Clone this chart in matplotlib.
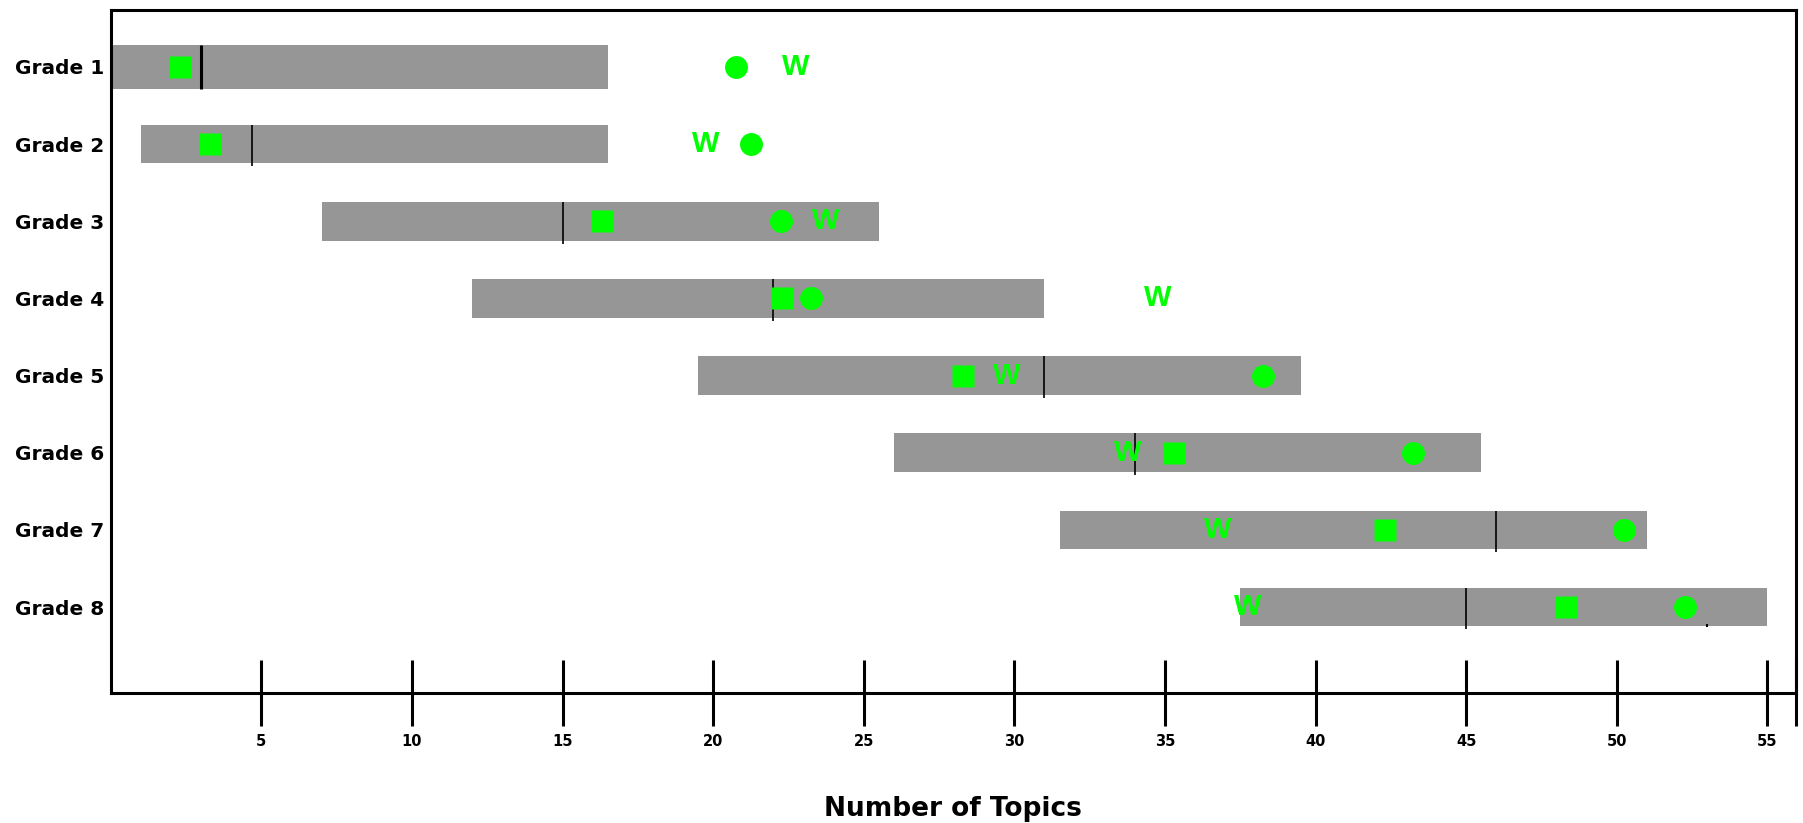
import matplotlib
matplotlib.use("Agg")
import matplotlib.pyplot as plt

# data
grades = ['Grade 1', 'Grade 2', 'Grade 3', 'Grade 4', 'Grade 5', 'Grade 6', 'Grade 7', 'Grade 8']
range_start = [0, 1, 7, 12, 19.5, 26, 31.5, 37.5]
range_end = [16.5, 16.5, 25.5, 31, 39.5, 45.5, 51, 55]
median_vals = [3, 4.7, 15, 22, 31, 34, 46, 45]
square_vals = [2.3, 3.3, 16.3, 22.3, 28.3, 35.3, 42.3, 48.3]
circle_vals = [20.75, 21.25, 22.25, 23.25, 38.25, 43.25, 50.25, 52.25]
w_vals = [22.75, 19.75, 23.75, 34.75, 29.75, 33.75, 36.75, 37.75]
x_ticks = [5, 10, 15, 20, 25, 30, 35, 40, 45, 50, 55]
extra_mark = 53  # tiny tick under the grade 8 bar

GREEN = '#00ff00'
GREY = '#969696'

fig = plt.figure(figsize=(18.03, 8.23), dpi=100)
ax = fig.add_axes([110.7 / 1803, 1 - 693 / 823, (1796 - 110.7) / 1803, (693 - 10) / 823])

ypos = list(range(1, len(grades) + 1))
bar_h = [0.57] + [0.5] * (len(grades) - 1)
widths = [e - s for s, e in zip(range_start, range_end)]
ax.barh(ypos, widths, left=range_start, height=bar_h, color=GREY, zorder=1)

for i, y in enumerate(ypos):
    lw = 2.2 if i == 0 else 1.2
    ext = 0 if i == 0 else 0.04
    ax.vlines(median_vals[i], y - bar_h[i] / 2, y + bar_h[i] / 2 + ext, color='black', lw=lw, zorder=2)

ax.vlines(extra_mark, ypos[-1] + 0.22, ypos[-1] + 0.26, color='black', lw=1.5, zorder=2)

ax.plot(square_vals, ypos, 's', color=GREEN, ms=15.5, mec='none', zorder=3)
ax.plot(circle_vals, ypos, 'o', color=GREEN, ms=16.5, mec='none', zorder=3)
for x, y in zip(w_vals, ypos):
    ax.text(x, y, 'W', color=GREEN, fontsize=21, family='Liberation Sans', fontweight='bold',
            ha='center', va='center', zorder=4)

ax.set_xlim(0, 55.95)
ax.set_ylim(9.114, 0.262)

ax.set_yticks(ypos)
ax.set_yticklabels(grades, fontsize=14.5, fontweight='bold')
ax.tick_params(axis='y', length=0, pad=5)

ax.set_xticks(x_ticks)
ax.set_xticklabels([str(t) for t in x_ticks], fontsize=10.5, fontweight='bold')
ax.set_xticks([55.95], minor=True)
ax.tick_params(axis='x', which='both', direction='inout', length=47, width=2.2, pad=6)

for s in ax.spines.values():
    s.set_linewidth(2.2)

ax.set_xlabel('Number of Topics', fontsize=19, fontweight='bold', labelpad=34)

fig.savefig('out.png', dpi=100)
